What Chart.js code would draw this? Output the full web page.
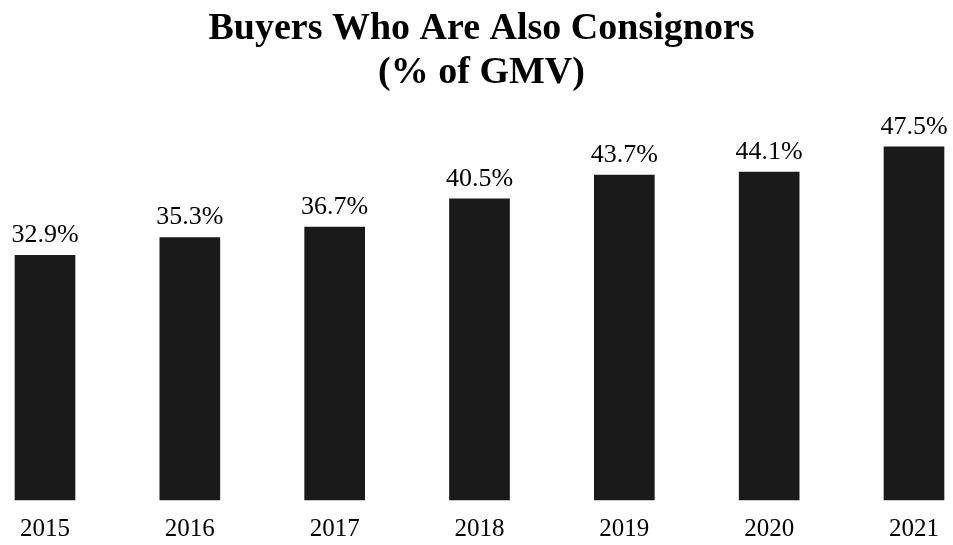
<!DOCTYPE html>
<html>
<head>
<meta charset="utf-8">
<script src="https://cdn.jsdelivr.net/npm/chart.js@4.4.1/dist/chart.umd.min.js"></script>
<style>
html,body{margin:0;padding:0;background:#fff;}
#wrap{width:953px;height:545px;position:relative;}
</style>
</head>
<body>
<div id="wrap"><canvas id="c"></canvas></div>
<script>
const categories = ['2015','2016','2017','2018','2019','2020','2021'];
const values = [32.9, 35.3, 36.7, 40.5, 43.7, 44.1, 47.5];
const titleLines = ['Buyers Who Are Also Consignors', '(% of GMV)'];

const SERIF = '"Liberation Serif", "Times New Roman", Times, serif';

const dataLabels = {
  id: 'dataLabels',
  afterDatasetsDraw(chart) {
    const ctx = chart.ctx;
    const meta = chart.getDatasetMeta(0);
    ctx.save();
    ctx.font = '26px ' + SERIF;
    ctx.fillStyle = '#000';
    ctx.textAlign = 'center';
    ctx.textBaseline = 'alphabetic';
    meta.data.forEach((bar, i) => {
      ctx.fillText(values[i].toFixed(1) + '%', bar.x, bar.y - 13);
    });
    ctx.restore();
  }
};

new Chart(document.getElementById('c'), {
  type: 'bar',
  data: {
    labels: categories,
    datasets: [{
      data: values,
      backgroundColor: '#1a1a1a',
      borderWidth: 0,
      barThickness: 60,
      clip: false
    }]
  },
  options: {
    responsive: true,
    maintainAspectRatio: false,
    animation: false,
    layout: { padding: { left: 45, right: 35, top: 0, bottom: -13 } },
    plugins: {
      legend: { display: false },
      tooltip: { enabled: false },
      title: {
        display: true,
        text: titleLines,
        color: '#000',
        font: { family: SERIF, size: 38, weight: 'bold', lineHeight: 1.16 },
        padding: { top: 7, bottom: 33 }
      }
    },
    scales: {
      x: {
        offset: false,
        grid: { display: false, drawTicks: false },
        border: { display: false },
        ticks: { color: '#000', font: { family: SERIF, size: 25 }, padding: 14, maxRotation: 0, autoSkip: false }
      },
      y: {
        display: false,
        min: 0,
        max: 50
      }
    }
  },
  plugins: [dataLabels]
});
</script>
</body>
</html>
